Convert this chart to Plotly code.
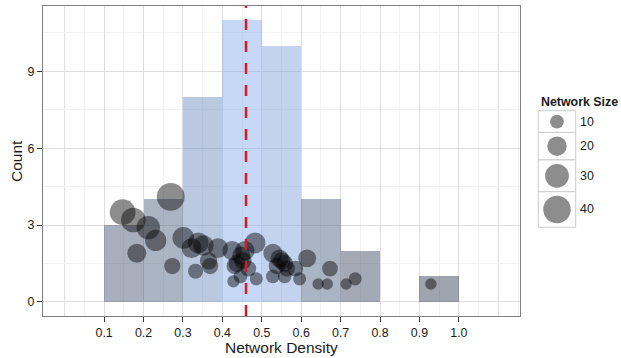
import math
import plotly.graph_objects as go

# ---------------- data ----------------
bin_centers = [0.15, 0.25, 0.35, 0.45, 0.55, 0.65, 0.75, 0.85, 0.95]
bin_counts = [3, 4, 8, 11, 10, 4, 2, 0, 1]

density = [0.147, 0.174, 0.183,
           0.212, 0.231, 0.269, 0.273,
           0.301, 0.322, 0.339, 0.332, 0.352, 0.365, 0.369, 0.389,
           0.425, 0.428, 0.431, 0.437, 0.448, 0.446, 0.457, 0.466, 0.483, 0.486, 0.452,
           0.528, 0.545, 0.558, 0.538, 0.528, 0.558, 0.564, 0.585, 0.596, 0.551,
           0.615, 0.643, 0.666, 0.673,
           0.714, 0.737,
           0.929]
network_size = [35, 32, 19,
                29, 24, 41, 14,
                25, 21, 23, 12, 22, 16, 14, 21,
                20, 8, 14, 15, 18, 10, 20, 13, 23, 9, 16,
                19, 17, 15, 14, 10, 10, 13, 13, 9, 16,
                17, 7, 7, 13,
                7, 9,
                7]
mean_density = 0.46

x_tick_vals = [0.1, 0.2, 0.3, 0.4, 0.5, 0.6, 0.7, 0.8, 0.9, 1.0]
x_tick_text = ["0.1", "0.2", "0.3", "0.4", "0.5", "0.6", "0.7", "0.8", "0.9", "1.0"]
y_tick_vals = [0, 3, 6, 9]
y_tick_text = ["0", "3", "6", "9"]
legend_sizes = [10, 20, 30, 40]
legend_title = "Network Size"
x_title = "Network Density"
y_title = "Count"

# ---------------- geometry / style ----------------
W, H = 621, 358
ML, MR, MT, MB = 43, 0, 6, 42
PW, PH = W - ML - MR, H - MT - MB
PANEL_RIGHT = 520
FONT = "Liberation Sans, Arial, Helvetica, sans-serif"
POINT_COLOR = "rgba(0,0,0,0.64)"


def px_x(px):
    return (px - ML) / PW


def px_y(py):
    return (H - MB - py) / PH


def diam(v):
    return 4.35 * math.sqrt(v)


# bar fill colour gradient by count (semi-transparent)
lo = (44, 53, 75)
hi = (128, 168, 235)
cmin, cmax = 1, 11


def bar_color(c):
    t = max(0.0, min(1.0, (c - cmin) / (cmax - cmin)))
    r, g, b = [lo[i] + t * (hi[i] - lo[i]) for i in range(3)]
    return f"rgba({r:.0f},{g:.0f},{b:.0f},0.45)"


fig = go.Figure()

fig.add_trace(go.Bar(
    x=bin_centers, y=bin_counts, width=0.1,
    marker=dict(color=[bar_color(c) for c in bin_counts], line=dict(width=0)),
    hoverinfo="skip", xaxis="x", yaxis="y",
))

fig.add_trace(go.Scatter(
    x=density, y=[s / 10 for s in network_size], mode="markers",
    marker=dict(size=[diam(s) for s in network_size], sizemode="diameter",
                color=POINT_COLOR, line=dict(width=0)),
    hoverinfo="skip", xaxis="x", yaxis="y",
))

# ---------------- legend (drawn on a pixel-unit axis) ----------------
key_x0, key_x1 = 538.3, 575.7
key_top = 110.7
shapes = []
annotations = []
leg_y = []
y = key_top
for s in legend_sizes:
    h = diam(s) + 8
    shapes.append(dict(type="rect", xref="x2", yref="y2", x0=key_x0, x1=key_x1,
                       y0=y, y1=y + h, line=dict(color="#cccccc", width=1),
                       fillcolor="white", layer="below"))
    leg_y.append(y + h / 2)
    annotations.append(dict(xref="x2", yref="y2", x=577.5, y=y + h / 2, text=str(s),
                            showarrow=False, xanchor="left", yanchor="middle",
                            font=dict(size=12.4, color="#1a1a1a", family=FONT)))
    y += h

fig.add_trace(go.Scatter(
    x=[(key_x0 + key_x1) / 2] * len(legend_sizes), y=leg_y, mode="markers",
    marker=dict(size=[diam(s) for s in legend_sizes], sizemode="diameter",
                color=POINT_COLOR, line=dict(width=0)),
    hoverinfo="skip", xaxis="x2", yaxis="y2",
))

annotations.append(dict(xref="x2", yref="y2", x=538.5, y=101.5, text=f"<b>{legend_title}</b>",
                        showarrow=False, xanchor="left", yanchor="middle",
                        font=dict(size=12.4, color="#1a1a1a", family=FONT)))

# axis titles
annotations.append(dict(xref="paper", yref="paper", x=px_x((ML + PANEL_RIGHT) / 2), y=px_y(347.5),
                        text=x_title, showarrow=False, xanchor="center", yanchor="middle",
                        font=dict(size=15.5, color="#1a1a1a", family=FONT)))
annotations.append(dict(xref="paper", yref="paper", x=px_x(16), y=px_y(161),
                        text=y_title, showarrow=False, xanchor="center", yanchor="middle",
                        textangle=-90, font=dict(size=15.5, color="#1a1a1a", family=FONT)))

# extra major vertical grid lines at 0.0 and 1.1 (no labels there)
for gx in [0.0, 1.1]:
    shapes.append(dict(type="line", xref="x", yref="paper", x0=gx, x1=gx, y0=0, y1=1,
                       line=dict(color="#dedede", width=1), layer="below"))

# mean line
shapes.append(dict(type="line", xref="x", yref="paper", x0=mean_density, x1=mean_density,
                   y0=0, y1=1, line=dict(color="#d01c24", width=2.5, dash="11px,11px"),
                   layer="above"))

x_minor = [round(0.05 + 0.1 * i, 2) for i in range(12)]
y_minor = [1.5, 4.5, 7.5, 10.5]

axis_common = dict(
    showline=True, linecolor="#7f7f7f", linewidth=1, mirror=True,
    ticks="outside", ticklen=5, tickwidth=1, tickcolor="#333333",
    showgrid=True, gridcolor="#dedede", gridwidth=1, zeroline=False,
    tickfont=dict(size=12.4, color="#1a1a1a", family=FONT),
)

fig.update_layout(
    width=W, height=H,
    margin=dict(l=ML, r=MR, t=MT, b=MB, pad=0),
    paper_bgcolor="white", plot_bgcolor="white",
    showlegend=False, bargap=0, hovermode=False,
    font=dict(family=FONT, color="#1a1a1a"),
    xaxis=dict(domain=[0, px_x(PANEL_RIGHT)], range=[-0.055, 1.155],
               tickmode="array", tickvals=x_tick_vals, ticktext=x_tick_text,
               minor=dict(tickmode="array", tickvals=x_minor, showgrid=True,
                          gridcolor="#f3f3f3", gridwidth=1, ticks=""),
               anchor="y", **axis_common),
    yaxis=dict(domain=[0, 1], range=[-0.55, 11.55],
               tickmode="array", tickvals=y_tick_vals, ticktext=y_tick_text,
               minor=dict(tickmode="array", tickvals=y_minor, showgrid=True,
                          gridcolor="#f3f3f3", gridwidth=1, ticks=""),
               anchor="x", **axis_common),
    xaxis2=dict(domain=[px_x(530), 1], range=[530, W], visible=False, anchor="y2",
                fixedrange=True),
    yaxis2=dict(domain=[0, 1], range=[H - MB, MT], visible=False, anchor="x2",
                fixedrange=True),
    shapes=shapes,
    annotations=annotations,
)

fig.write_html("out.html", config={"displayModeBar": False},
               post_script="document.body.style.margin='0';document.body.style.overflow='hidden';")
